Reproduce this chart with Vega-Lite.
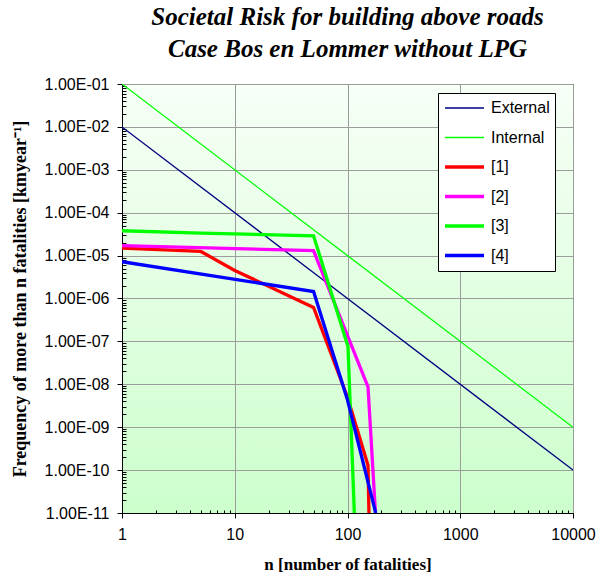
{
  "$schema": "https://vega.github.io/schema/vega-lite/v6.json",
  "width": 451,
  "height": 429,
  "autosize": {"type": "none"},
  "padding": {"left": 122, "top": 84, "right": 24, "bottom": 68},
  "background": "white",
  "title": {
    "text": ["Societal Risk for building above roads", "Case Bos en Lommer without LPG"],
    "font": "Liberation Serif",
    "fontSize": 25,
    "fontStyle": "italic",
    "fontWeight": "bold",
    "lineHeight": 32,
    "color": "black",
    "anchor": "middle",
    "offset": 14
  },
  "data": {
    "values": [
      {"series": "External", "n": 1, "f": 1e-2},
      {"series": "External", "n": 10000, "f": 1e-10},
      {"series": "Internal", "n": 1, "f": 1e-1},
      {"series": "Internal", "n": 10000, "f": 1e-9},
      {"series": "[1]", "n": 1, "f": 1.5e-5},
      {"series": "[1]", "n": 5, "f": 1.25e-5},
      {"series": "[1]", "n": 10, "f": 4.5e-6},
      {"series": "[1]", "n": 50, "f": 6.2e-7},
      {"series": "[1]", "n": 100, "f": 5e-9},
      {"series": "[1]", "n": 152, "f": 1.3e-10},
      {"series": "[1]", "n": 155, "f": 1e-11},
      {"series": "[2]", "n": 1, "f": 1.7e-5},
      {"series": "[2]", "n": 50, "f": 1.3e-5},
      {"series": "[2]", "n": 152, "f": 8.7e-9},
      {"series": "[2]", "n": 177, "f": 1e-11},
      {"series": "[3]", "n": 1, "f": 3.8e-5},
      {"series": "[3]", "n": 5, "f": 3.35e-5},
      {"series": "[3]", "n": 50, "f": 2.9e-5},
      {"series": "[3]", "n": 101, "f": 7.6e-8},
      {"series": "[3]", "n": 115, "f": 1e-11},
      {"series": "[4]", "n": 1, "f": 7.2e-6},
      {"series": "[4]", "n": 50, "f": 1.45e-6},
      {"series": "[4]", "n": 100, "f": 4.3e-9},
      {"series": "[4]", "n": 178, "f": 1e-11}
    ]
  },
  "mark": {"type": "line", "clip": true},
  "encoding": {
    "x": {
      "field": "n",
      "type": "quantitative",
      "scale": {"type": "log", "domain": [1, 10000], "nice": false},
      "axis": {
        "values": [1,2,3,4,5,6,7,8,9,10,20,30,40,50,60,70,80,90,100,200,300,400,500,600,700,800,900,1000,2000,3000,4000,5000,6000,7000,8000,9000,10000],
        "labelExpr": "abs(log(datum.value)/LN10 - round(log(datum.value)/LN10)) < 0.001 ? format(datum.value, 'd') : ''",
        "tickSize": {"condition": {"test": "abs(log(datum.value)/LN10 - round(log(datum.value)/LN10)) < 0.001", "value": 5}, "value": -3},
        "gridOpacity": {"condition": {"test": "abs(log(datum.value)/LN10 - round(log(datum.value)/LN10)) < 0.001", "value": 1}, "value": 0},
        "labelPadding": 8,
        "title": "n [number of fatalities]",
        "titlePadding": 14
      }
    },
    "y": {
      "field": "f",
      "type": "quantitative",
      "scale": {"type": "log", "domain": [1e-11, 1e-1], "nice": false},
      "axis": {
        "values": [1e-11,2e-11,3e-11,4e-11,5e-11,6e-11,7e-11,8e-11,9e-11,
                   1e-10,2e-10,3e-10,4e-10,5e-10,6e-10,7e-10,8e-10,9e-10,
                   1e-9,2e-9,3e-9,4e-9,5e-9,6e-9,7e-9,8e-9,9e-9,
                   1e-8,2e-8,3e-8,4e-8,5e-8,6e-8,7e-8,8e-8,9e-8,
                   1e-7,2e-7,3e-7,4e-7,5e-7,6e-7,7e-7,8e-7,9e-7,
                   1e-6,2e-6,3e-6,4e-6,5e-6,6e-6,7e-6,8e-6,9e-6,
                   1e-5,2e-5,3e-5,4e-5,5e-5,6e-5,7e-5,8e-5,9e-5,
                   1e-4,2e-4,3e-4,4e-4,5e-4,6e-4,7e-4,8e-4,9e-4,
                   1e-3,2e-3,3e-3,4e-3,5e-3,6e-3,7e-3,8e-3,9e-3,
                   1e-2,2e-2,3e-2,4e-2,5e-2,6e-2,7e-2,8e-2,9e-2,
                   1e-1],
        "labelExpr": "abs(log(datum.value)/LN10 - round(log(datum.value)/LN10)) < 0.001 ? '1.00E-' + (-round(log(datum.value)/LN10) < 10 ? '0' : '') + (-round(log(datum.value)/LN10)) : ''",
        "tickSize": {"condition": {"test": "abs(log(datum.value)/LN10 - round(log(datum.value)/LN10)) < 0.001", "value": 5}, "value": -4},
        "gridOpacity": {"condition": {"test": "abs(log(datum.value)/LN10 - round(log(datum.value)/LN10)) < 0.001", "value": 1}, "value": 0},
        "labelPadding": 8,
        "title": "Frequency of more than n  fatalities [kmyear⁻¹]",
        "titleFontSize": 18,
        "titlePadding": 15
      }
    },
    "color": {
      "field": "series",
      "type": "ordinal",
      "scale": {
        "type": "ordinal",
        "domain": ["External", "Internal", "[1]", "[2]", "[3]", "[4]"],
        "range": ["#000080", "#00ff00", "#ff0000", "#ff00ff", "#00ff00", "#0000ff"]
      },
      "legend": {"title": null}
    },
    "strokeWidth": {
      "field": "series",
      "type": "ordinal",
      "scale": {
        "type": "ordinal",
        "domain": ["External", "Internal", "[1]", "[2]", "[3]", "[4]"],
        "range": [1.3, 1.3, 3.3, 3.3, 3.3, 3.3]
      },
      "legend": {"title": null}
    }
  },
  "config": {
    "view": {
      "stroke": "black",
      "strokeWidth": 1,
      "fill": {
        "gradient": "linear",
        "x1": 0, "y1": 0, "x2": 0, "y2": 1,
        "stops": [
          {"offset": 0, "color": "#f7fff7"},
          {"offset": 1, "color": "#ccffcc"}
        ]
      }
    },
    "axis": {
      "domainColor": "black",
      "domainWidth": 1,
      "tickColor": "black",
      "tickWidth": 1,
      "gridColor": "#9c9c9c",
      "gridWidth": 1,
      "labelFont": "Liberation Sans",
      "labelFontSize": 16,
      "labelColor": "black",
      "titleFont": "Liberation Serif",
      "titleFontSize": 17,
      "titleFontWeight": "bold",
      "titleColor": "black",
      "labelOverlap": false,
      "labelFlush": false
    },
    "legend": {
      "orient": "none",
      "legendX": 316,
      "legendY": 9,
      "padding": 5,
      "strokeColor": "black",
      "fillColor": "white",
      "clipHeight": 20,
      "rowPadding": 9.5,
      "labelFont": "Liberation Sans",
      "labelFontSize": 16,
      "labelColor": "black",
      "labelOffset": 5,
      "symbolSize": 1521,
      "symbolType": "stroke"
    }
  }
}
